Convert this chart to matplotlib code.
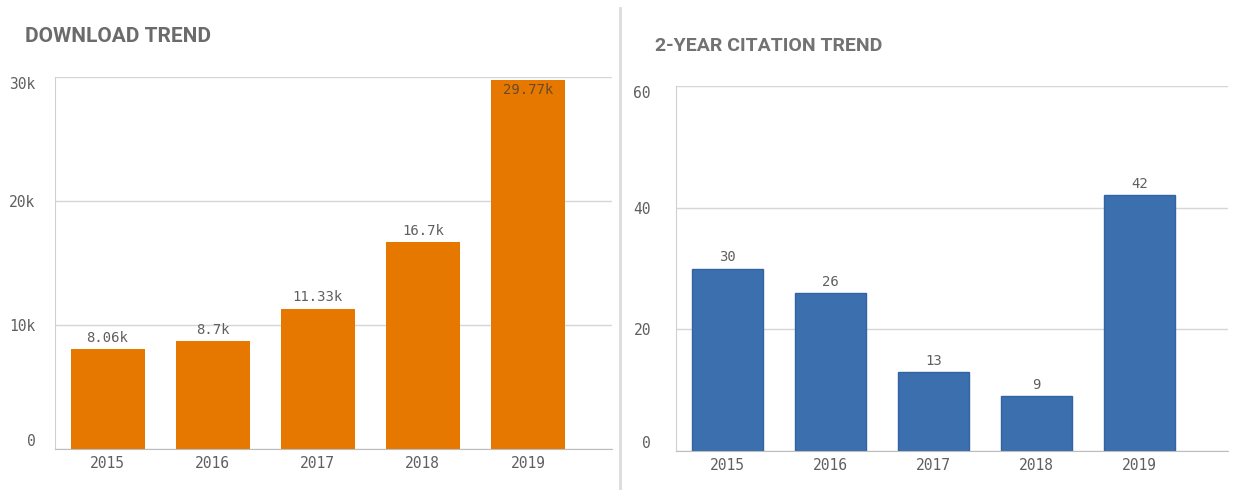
import matplotlib
matplotlib.use("Agg")
import matplotlib.pyplot as plt
from matplotlib.lines import Line2D

years = ["2015", "2016", "2017", "2018", "2019"]
downloads = [8060, 8700, 11330, 16700, 29770]
download_labels = ["8.06k", "8.7k", "11.33k", "16.7k", "29.77k"]
citations = [30, 26, 13, 9, 42]
citation_labels = ["30", "26", "13", "9", "42"]
download_ticks = [0, 10000, 20000, 30000]
download_tick_labels = ["0", "10k", "20k", "30k"]
citation_ticks = [0, 20, 40, 60]
citation_tick_labels = ["0", "20", "40", "60"]

W, H = 1233, 490
fig = plt.figure(figsize=(W / 100, H / 100), dpi=100)
fig.patch.set_facecolor("white")

MONO = "DejaVu Sans Mono"
TXT = "#5f5f5f"


def box(x0, x1, y0, y1):
    return [x0 / W, (H - y1) / H, (x1 - x0) / W, (y1 - y0) / H]


def style(ax, ticks, tlabels, ymax, xmax, pad):
    ax.set_ylim(0, ymax)
    ax.set_xlim(-0.5, xmax)
    ax.set_yticks(ticks)
    ax.set_yticklabels(tlabels, fontfamily=MONO, fontsize=10.5, color=TXT)
    labs = ax.get_yticklabels()
    labs[0].set_va("bottom")
    labs[-1].set_va("top")
    ax.tick_params(axis="y", length=0, pad=pad)
    ax.tick_params(axis="x", length=0, pad=5)
    ax.set_xticks(range(len(years)))
    ax.set_xticklabels(years, fontfamily=MONO, fontsize=10.5, color=TXT)
    ax.grid(axis="y", color="#d6d6d6", lw=1)
    ax.set_axisbelow(True)
    for s in ["top", "right"]:
        ax.spines[s].set_visible(False)
    ax.spines["left"].set_color("#d0d0d0")
    ax.spines["bottom"].set_color("#bdbdbd")


# Left panel
ax1 = fig.add_axes(box(55, 612, 77, 449))
bars1 = ax1.bar(range(len(years)), downloads, width=0.705, color="#e67800")
style(ax1, download_ticks, download_tick_labels, 30000, 4.8, 14)
for i, (b, lab) in enumerate(zip(bars1, download_labels)):
    h = b.get_height()
    if i == len(years) - 1:
        ax1.annotate(lab, (b.get_x() + b.get_width() / 2, h), xytext=(0, -2.5),
                     textcoords="offset points", ha="center", va="top",
                     fontfamily=MONO, fontsize=10, color="#6a4a2a")
    else:
        ax1.annotate(lab, (b.get_x() + b.get_width() / 2, h), xytext=(0, 3),
                     textcoords="offset points", ha="center", va="bottom",
                     fontfamily=MONO, fontsize=10, color=TXT)
fig.text(25 / W, 1 - 37 / H, "DOWNLOAD TREND", fontfamily="Roboto",
         fontweight="bold", fontsize=15, color="#6b6b6b", va="center", ha="left")

# Separator
fig.add_artist(Line2D([620 / W, 620 / W], [0, 1 - 8 / H], color="#dcdcdc", lw=2))

# Right panel
ax2 = fig.add_axes(box(676, 1228, 86, 451))
bars2 = ax2.bar(range(len(years)), citations, width=0.69, color="#3b6fae",
                edgecolor="#3263a2", lw=1)
style(ax2, citation_ticks, citation_tick_labels, 60, 4.86, 18)
for b, lab in zip(bars2, citation_labels):
    ax2.annotate(lab, (b.get_x() + b.get_width() / 2, b.get_height()), xytext=(0, 3),
                 textcoords="offset points", ha="center", va="bottom",
                 fontfamily=MONO, fontsize=10, color=TXT)
fig.text(655 / W, 1 - 46 / H, "2-YEAR CITATION TREND", fontfamily="Roboto",
         fontweight="bold", fontsize=14, color="#727272", va="center", ha="left")

fig.savefig("out.png", dpi=100, facecolor="white")
